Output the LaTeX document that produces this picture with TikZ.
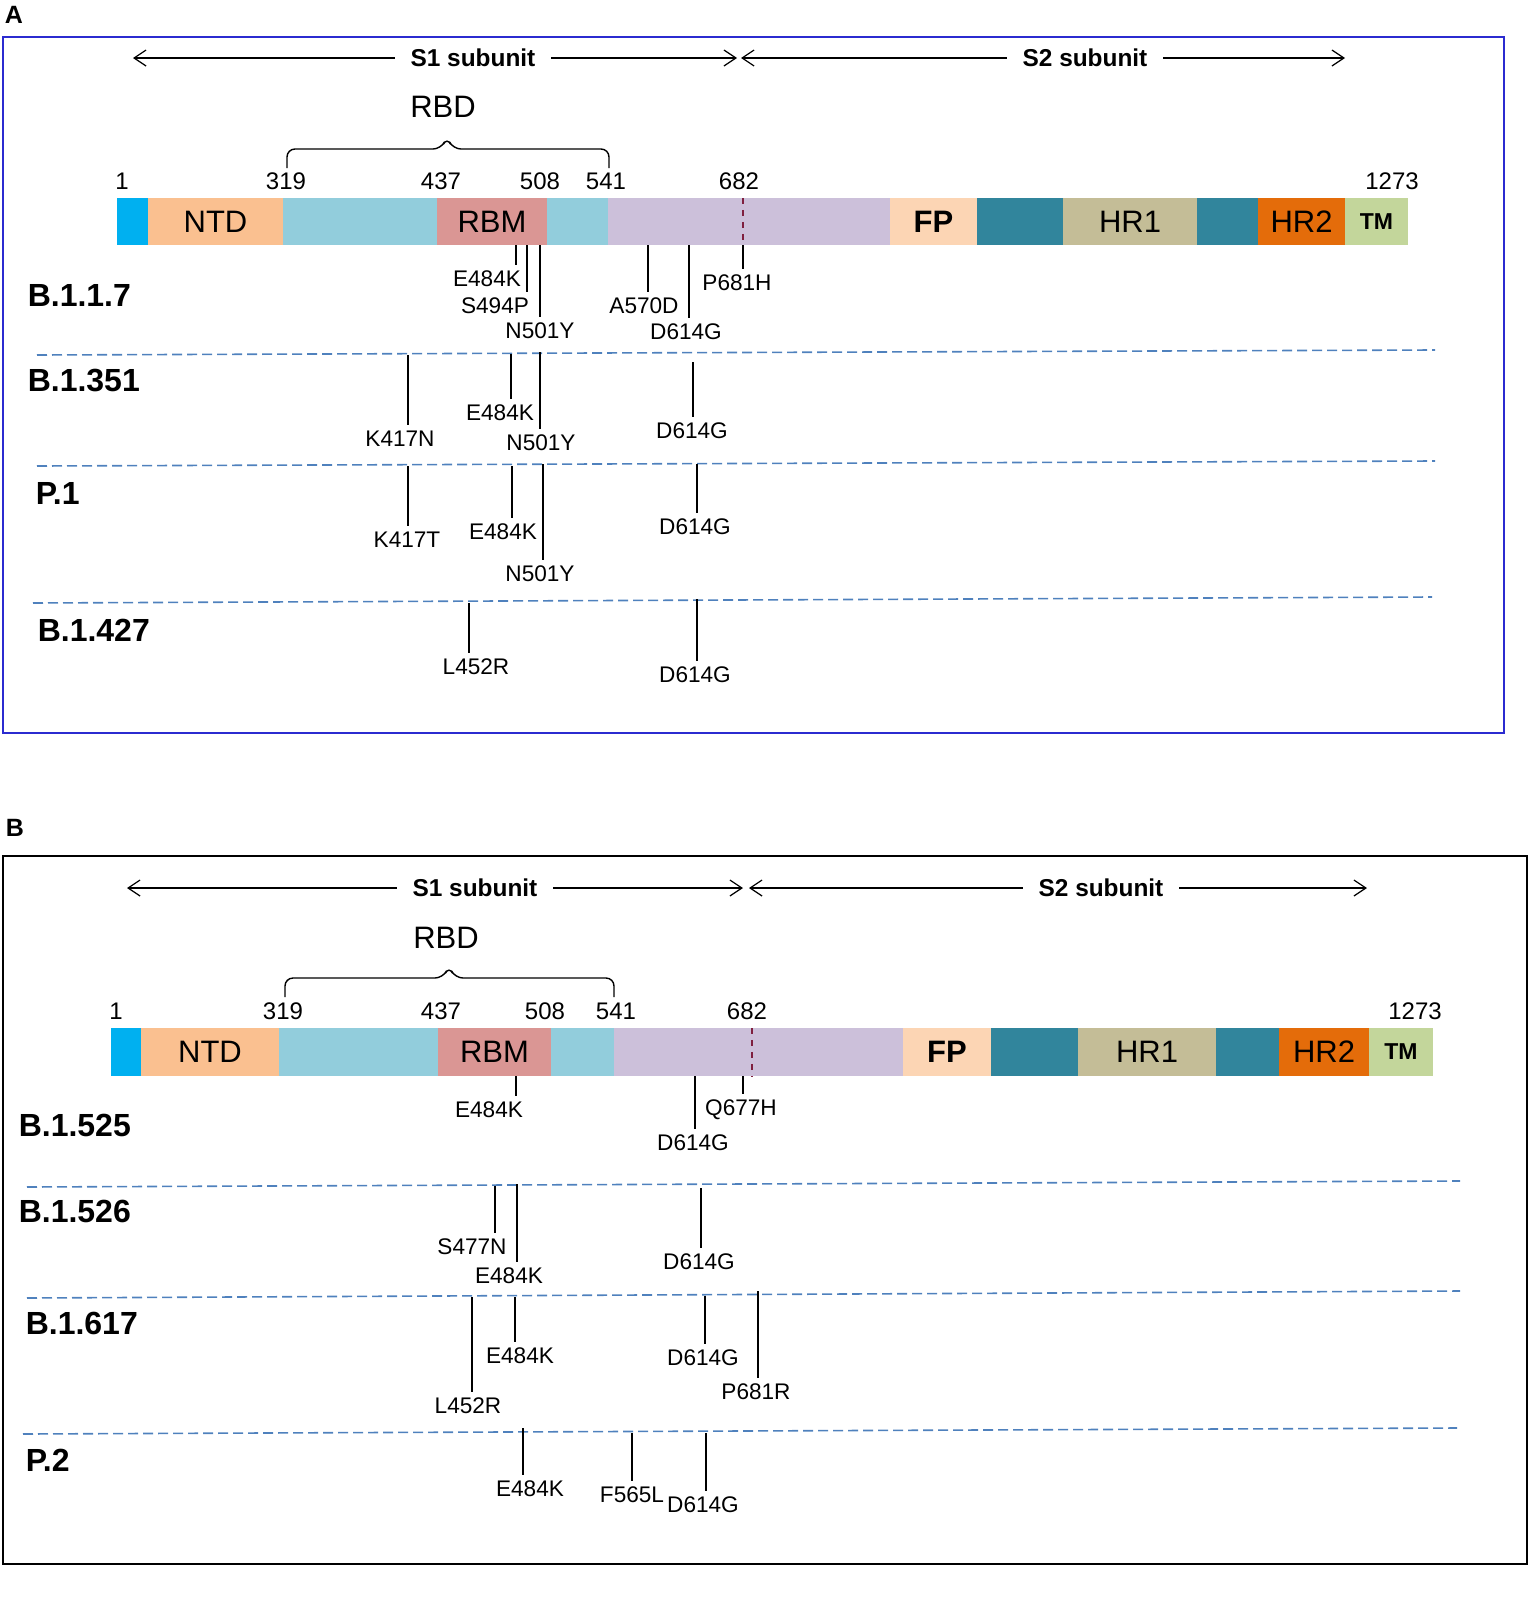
\documentclass[tikz,border=0pt]{standalone}
\usepackage{fontspec}
\setmainfont{Liberation Sans}
\usetikzlibrary{arrows.meta}
\definecolor{csig}{HTML}{00B0F0}
\definecolor{cntd}{HTML}{FAC090}
\definecolor{crbd}{HTML}{92CDDC}
\definecolor{crbm}{HTML}{DA9694}
\definecolor{cstalk}{HTML}{CCC0DA}
\definecolor{cfp}{HTML}{FCD5B4}
\definecolor{cteal}{HTML}{31859C}
\definecolor{chrone}{HTML}{C4BD97}
\definecolor{chrtwo}{HTML}{E46C0A}
\definecolor{ctm}{HTML}{C3D69B}
\definecolor{ccleave}{HTML}{7F1F3F}
\definecolor{csepline}{HTML}{4F81BD}
\definecolor{cframe}{HTML}{2B2BD0}
\tikzset{
	mut/.style={font=\fontsize{11.3bp}{13bp}\selectfont, inner sep=2.5bp},
	num/.style={font=\fontsize{12bp}{14bp}\selectfont, inner sep=0pt},
	strain/.style={font=\fontsize{16bp}{18bp}\selectfont\bfseries, anchor=west, inner sep=0pt},
	seg/.style={font=\fontsize{15.5bp}{18bp}\selectfont, inner sep=0pt},
	subunit/.style={font=\fontsize{12.2bp}{14bp}\selectfont\bfseries, inner sep=7.5bp},
	sepline/.style={draw=csepline, dash pattern=on 5bp off 2.5bp, line width=0.8bp},
	subarrow/.style={-{Straight Barb[length=6bp,width=8bp]}, line width=0.6bp},
	panel/.style={font=\fontsize{12.5bp}{14bp}\selectfont\bfseries, inner sep=0pt},
	rbdbrace/.style={rounded corners=4bp, line width=0.7bp},
}
\begin{document}
\begin{tikzpicture}[x=0.5bp, y=-0.5bp, line width=0.75bp]
	\useasboundingbox (0,0) rectangle (1536,1597);
	% ---------- panel A ----------
	\node[panel] (labA) at (14,15) {A};
	\draw[cframe, line width=0.8bp] (3,37) rectangle (1504,733);
	% subunits
	\node[subunit] (s1A) at (473,58) {S1 subunit};
	\node[subunit] (s2A) at (1085,58) {S2 subunit};
	\coordinate (s1Al) at (133,58);
	\coordinate (s1Ar) at (737,58);
	\coordinate (s2Al) at (741,58);
	\coordinate (s2Ar) at (1345,58);
	\draw[subarrow] (s1A.west) -- (s1Al);
	\draw[subarrow] (s1A.east) -- (s1Ar);
	\draw[subarrow] (s2A.west) -- (s2Al);
	\draw[subarrow] (s2A.east) -- (s2Ar);
	% RBD brace
	\node[seg] (rbdA) at (443,107) {RBD};
	\draw[rbdbrace] (287,168) -- (287,149) -- (441,149) -- (447,137) -- (453,149) -- (609,149) -- (609,168);
	% residue numbers
	\foreach \x/\n in {122/1, 286/319, 441/437, 540/508, 606/541, 739/682, 1392/1273}
		\node[num] (numA-\n) at (\x,181) {\n};
	% domains
	\foreach \a/\b/\c/\t in {117/148/csig/{}, 148/283/cntd/NTD, 283/437/crbd/{}, 437/547/crbm/RBM,
			547/608/crbd/{}, 608/890/cstalk/{}, 890/977/cfp/{\bfseries FP}, 977/1063/cteal/{},
			1063/1197/chrone/HR1, 1197/1258/cteal/{}, 1258/1345/chrtwo/HR2,
			1345/1408/ctm/{\fontsize{11.5bp}{12bp}\selectfont\bfseries TM}}{
		\fill[\c] (\a,198) rectangle (\b,245);
		\node[seg] (domA-\a) at ({(\a+\b)/2},221.5) {\t};
	}
	\draw[ccleave, dashed, line width=0.6bp] (743,198) -- (743,245);
	% lineages
	\node[strain] (linA1) at (27,295) {B.1.1.7};
	\node[strain] (linA2) at (27,381) {B.1.351};
	\node[strain] (linA3) at (35,493) {P.1};
	\node[strain] (linA4) at (37,630) {B.1.427};
	\draw[sepline] (37,355) -- (1435,350);
	\draw[sepline] (37,466) -- (1435,461);
	\draw[sepline] (33,603) -- (1432,597);
	% mutations
	\foreach \x/\y/\lx/\ly/\m [count=\i] in {516/245/487/279/E484K, 527/245/495/306/S494P,
			540/245/540/331/N501Y, 648/245/644/306/A570D, 689/245/686/332/D614G,
			743/245/737/283/P681H,
			408/355/400/439/K417N, 511/354/500/413/E484K, 540/352/541/443/N501Y,
			693/362/692/431/D614G,
			408/466/407/540/K417T, 512/466/503/532/E484K, 543/464/540/574/N501Y,
			697/464/695/527/D614G,
			469/603/476/667/L452R, 697/599/695/675/D614G}{
		\coordinate (mA-\i) at (\x,\y);
		\node[mut] (mlA-\i) at (\lx,\ly) {\m};
		\draw (mA-\i) -- (mA-\i |- mlA-\i.north);
	}
	% ---------- panel B ----------
	\node[panel] (labB) at (15,828) {B};
	\draw[black, line width=0.8bp] (3,856) rectangle (1527,1564);
	% subunits
	\node[subunit] (s1B) at (475,888) {S1 subunit};
	\node[subunit] (s2B) at (1101,888) {S2 subunit};
	\coordinate (s1Bl) at (127,888);
	\coordinate (s1Br) at (743,888);
	\coordinate (s2Bl) at (749,888);
	\coordinate (s2Br) at (1367,888);
	\draw[subarrow] (s1B.west) -- (s1Bl);
	\draw[subarrow] (s1B.east) -- (s1Br);
	\draw[subarrow] (s2B.west) -- (s2Bl);
	\draw[subarrow] (s2B.east) -- (s2Br);
	% RBD brace
	\node[seg] (rbdB) at (446,938) {RBD};
	\draw[rbdbrace] (285,997) -- (285,978) -- (443,978) -- (449,966) -- (455,978) -- (614,978) -- (614,997);
	% residue numbers
	\foreach \x/\n in {116/1, 283/319, 441/437, 545/508, 616/541, 747/682, 1415/1273}
		\node[num] (numB-\n) at (\x,1011) {\n};
	% domains
	\foreach \a/\b/\c/\t in {111/141/csig/{}, 141/279/cntd/NTD, 279/438/crbd/{}, 438/551/crbm/RBM,
			551/614/crbd/{}, 614/903/cstalk/{}, 903/991/cfp/{\bfseries FP}, 991/1078/cteal/{},
			1078/1216/chrone/HR1, 1216/1279/cteal/{}, 1279/1369/chrtwo/HR2,
			1369/1433/ctm/{\fontsize{11.5bp}{12bp}\selectfont\bfseries TM}}{
		\fill[\c] (\a,1028) rectangle (\b,1076);
		\node[seg] (domB-\a) at ({(\a+\b)/2},1052) {\t};
	}
	\draw[ccleave, dashed, line width=0.6bp] (752,1028) -- (752,1076);
	% lineages
	\node[strain] (linB1) at (18,1125) {B.1.525};
	\node[strain] (linB2) at (18,1211) {B.1.526};
	\node[strain] (linB3) at (25,1323) {B.1.617};
	\node[strain] (linB4) at (25,1460) {P.2};
	\draw[sepline] (27,1187) -- (1460,1181);
	\draw[sepline] (27,1298) -- (1460,1291);
	\draw[sepline] (23,1434) -- (1457,1428);
	% mutations
	\foreach \x/\y/\lx/\ly/\m [count=\i] in {516/1076/489/1110/E484K, 695/1076/693/1143/D614G,
			743/1076/741/1110/Q677H,
			495/1186/472/1247/S477N, 517/1184/509/1276/E484K, 701/1188/699/1262/D614G,
			472/1297/468/1406/L452R, 515/1297/520/1356/E484K, 705/1296/703/1358/D614G,
			758/1291/756/1392/P681R,
			523/1428/530/1489/E484K, 632/1433/632/1495/F565L, 706/1433/703/1505/D614G}{
		\coordinate (mB-\i) at (\x,\y);
		\node[mut] (mlB-\i) at (\lx,\ly) {\m};
		\draw (mB-\i) -- (mB-\i |- mlB-\i.north);
	}
\end{tikzpicture}
\end{document}
